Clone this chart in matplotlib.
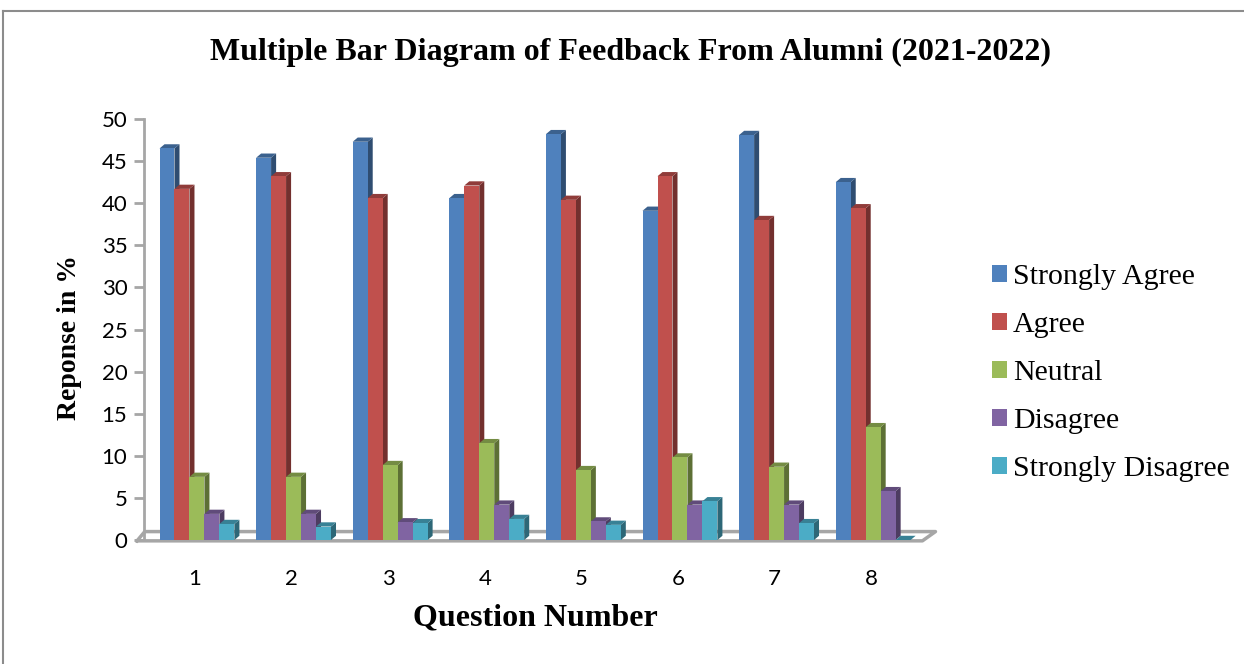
import numpy as np
import matplotlib.pyplot as plt
from matplotlib.patches import Polygon, Rectangle
from matplotlib.lines import Line2D
from matplotlib.colors import to_rgb

questions = [1, 2, 3, 4, 5, 6, 7, 8]
series = ['Strongly Agree', 'Agree', 'Neutral', 'Disagree', 'Strongly Disagree']
strongly_agree = [46.5, 45.4, 47.3, 40.6, 48.2, 39.1, 48.1, 42.5]
agree = [41.7, 43.2, 40.6, 42.1, 40.4, 43.2, 38.0, 39.4]
neutral = [7.5, 7.5, 8.9, 11.5, 8.3, 9.8, 8.7, 13.4]
disagree = [3.1, 3.1, 2.1, 4.2, 2.2, 4.2, 4.2, 5.8]
strongly_disagree = [1.9, 1.6, 2.0, 2.5, 1.8, 4.6, 2.0, 0.0]
values = [strongly_agree, agree, neutral, disagree, strongly_disagree]
colors = ['#4F81BD', '#C0504D', '#9BBB59', '#8064A2', '#4BACC6']

serif = 'Liberation Serif'
sans = ['Lato', 'DejaVu Sans']

W, H = 1244, 664
fig = plt.figure(figsize=(W / 100, H / 100), dpi=100)

# axes box in pixels: x 144..935, y 119..540
ax = fig.add_axes([144 / W, (H - 540) / H, (935 - 144) / W, (540 - 119) / H])
ax.set_xlim(0.472, 8.66)
ax.set_ylim(0, 50)

bw = 0.155          # front face width (category units)
dx = 0.052          # depth offset in x
dy = 0.5            # depth offset in y

def shade(c, f):
    r, g, b = to_rgb(c)
    return (r * f, g * f, b * f)

x = np.array(questions, dtype=float)
z = 3
for i, (vals, col) in enumerate(zip(values, colors)):
    xs = x + (i - 2) * bw - bw / 2 + 0.02
    for x0, v in zip(xs, vals):
        front = Rectangle((x0, 0), bw, v, facecolor=col, edgecolor='none', zorder=z)
        side = Polygon([(x0 + bw, 0), (x0 + bw + dx, dy), (x0 + bw + dx, v + dy), (x0 + bw, v)],
                       closed=True, facecolor=shade(col, 0.6), edgecolor='none', zorder=z)
        top = Polygon([(x0, v), (x0 + dx, v + dy), (x0 + bw + dx, v + dy), (x0 + bw, v)],
                      closed=True, facecolor=shade(col, 0.75), edgecolor='none', zorder=z)
        ax.add_patch(side)
        ax.add_patch(top)
        ax.add_patch(front)
    z += 1

# floor
gray = '#A6A6A6'
fx0, fx1 = 0.40, 8.53
ax.plot([fx0, fx1, fx1 + 0.135, 0.48, fx0], [-0.1, -0.1, 1.0, 1.0, -0.1],
        color=gray, lw=2.5, clip_on=False, zorder=1)

for s in ['top', 'right', 'bottom']:
    ax.spines[s].set_visible(False)
ax.spines['left'].set_color(gray)
ax.spines['left'].set_linewidth(2)
ax.set_yticks(np.arange(0, 51, 5))
ax.tick_params(axis='y', colors=gray, length=7, width=2, labelcolor='black',
               labelsize=16, pad=5)
ax.set_xticks(questions)
ax.tick_params(axis='x', length=0, labelsize=16, pad=21)
for lab in ax.get_xticklabels() + ax.get_yticklabels():
    lab.set_family(sans)

fig.text(630 / W, 1 - 52 / H, 'Multiple Bar Diagram of Feedback From Alumni (2021-2022)',
         ha='center', va='center', family=serif, fontweight='bold', fontsize=23)
fig.text(70 / W, 1 - 338 / H, 'Reponse in %', rotation=90, ha='center', va='center',
         family=serif, fontweight='bold', fontsize=20)
fig.text(535 / W, 1 - 618 / H, 'Question Number', ha='center', va='center',
         family=serif, fontweight='bold', fontsize=23)

handles = [Rectangle((0, 0), 1, 1, facecolor=c, edgecolor='none') for c in colors]
fig.legend(handles, series, loc='center left', bbox_to_anchor=(992 / W, 1 - 373 / H),
           frameon=False, prop={'family': serif, 'size': 21.5}, handlelength=0.5,
           handleheight=0.5, handletextpad=0.2, labelspacing=0.74, borderaxespad=0,
           borderpad=0)

# outer chart border (left and top visible)
fig.add_artist(Line2D([3 / W, 3 / W], [0, 1 - 11 / H], color='#8C8C8C', lw=1.5))
fig.add_artist(Line2D([3 / W, 1], [1 - 11 / H, 1 - 11 / H], color='#8C8C8C', lw=1.5))

fig.savefig('out.png', dpi=100)
